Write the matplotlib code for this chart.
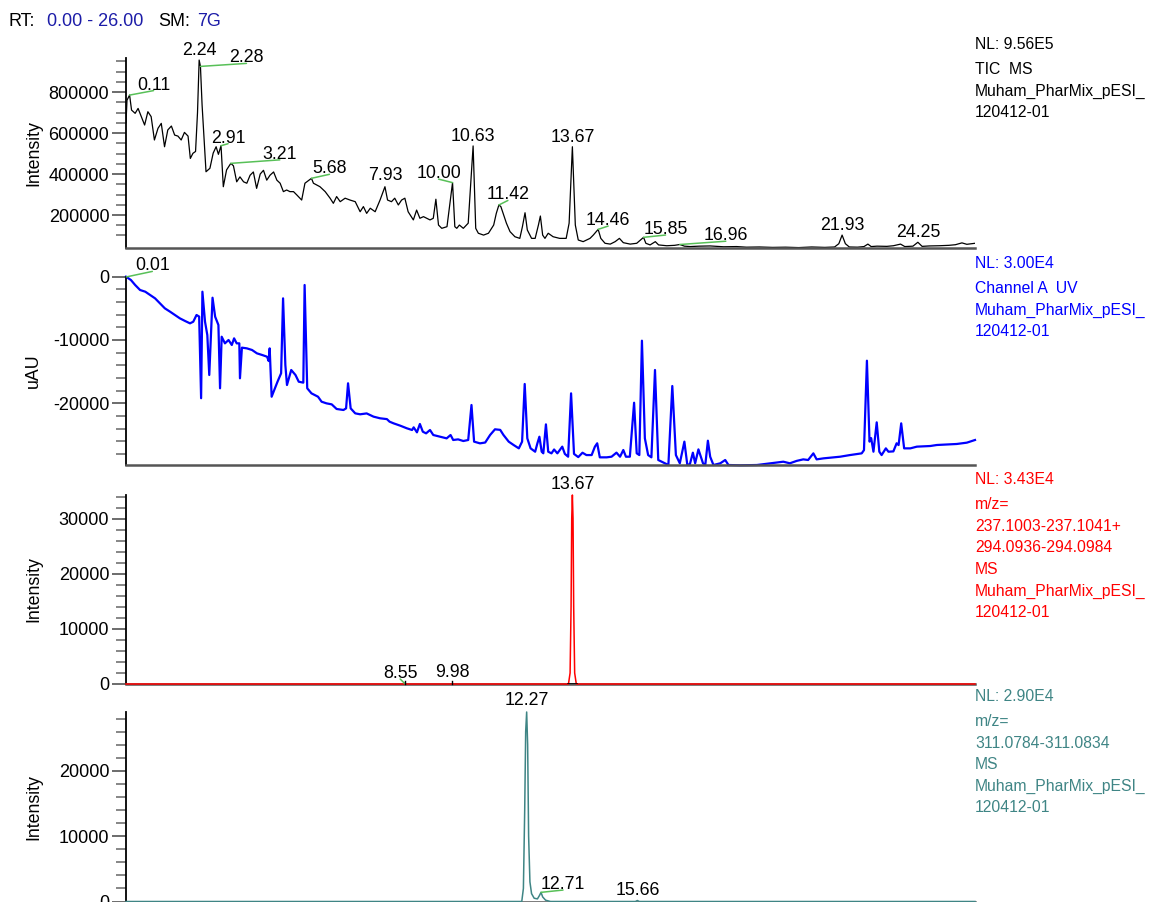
import numpy as np
import matplotlib
matplotlib.use('Agg')
import matplotlib.pyplot as plt
from matplotlib.ticker import FixedLocator

plt.rcParams['font.family'] = ['Liberation Sans', 'DejaVu Sans']

# ---- TIC (MS) trace ----
tic_rt = [0.00, 0.03, 0.11, 0.17, 0.28, 0.37, 0.47, 0.57, 0.67, 0.77, 0.87, 0.98, 1.08, 1.18,
          1.28, 1.39, 1.49, 1.59, 1.69, 1.79, 1.90, 1.97, 2.05, 2.13, 2.19, 2.24, 2.28, 2.33,
          2.45, 2.57, 2.67, 2.76, 2.83, 2.91, 2.98, 3.08, 3.21, 3.29, 3.39, 3.49, 3.60, 3.70,
          3.80, 3.90, 4.00, 4.11, 4.21, 4.31, 4.41, 4.52, 4.62, 4.72, 4.82, 4.92, 5.02, 5.13,
          5.23, 5.38, 5.48, 5.68, 5.74, 5.94, 6.10, 6.25, 6.35, 6.45, 6.56, 6.71, 6.86, 7.02,
          7.17, 7.27, 7.37, 7.48, 7.63, 7.78, 7.93, 8.01, 8.13, 8.23, 8.34, 8.44, 8.54, 8.64,
          8.80, 8.90, 9.00, 9.11, 9.21, 9.31, 9.41, 9.49, 9.57, 9.67, 9.83, 10.00, 10.07, 10.13,
          10.21, 10.33, 10.48, 10.63, 10.71, 10.79, 10.95, 11.10, 11.26, 11.34, 11.42, 11.48,
          11.55, 11.65, 11.76, 11.91, 12.06, 12.14, 12.22, 12.29, 12.42, 12.53, 12.63, 12.69,
          12.76, 12.83, 12.93, 13.08, 13.28, 13.48, 13.57, 13.67, 13.76, 13.85, 14.00, 14.21,
          14.31, 14.46, 14.54, 14.67, 14.83, 14.98, 15.11, 15.23, 15.44, 15.64, 15.85, 15.92,
          16.05, 16.21, 16.31, 16.56, 16.80, 16.96, 17.10, 17.28, 17.55, 17.89, 18.30, 18.70,
          19.00, 19.40, 19.80, 20.20, 20.60, 21.00, 21.40, 21.70, 21.83, 21.93, 22.03, 22.15,
          22.40, 22.60, 22.72, 22.82, 23.00, 23.30, 23.50, 23.72, 23.85, 24.10, 24.25, 24.38,
          24.60, 24.90, 25.20, 25.40, 25.60, 25.75, 26.00]
tic_int = [650000, 760000, 785000, 712000, 696000, 720000, 680000, 639000, 704000, 680000,
           566000, 623000, 647000, 533000, 615000, 634000, 590000, 585000, 566000, 603000,
           585000, 476000, 501000, 510000, 700000, 956000, 925000, 737000, 411000, 428000,
           502000, 533000, 496000, 538000, 338000, 420000, 452000, 440000, 362000, 386000,
           362000, 355000, 394000, 410000, 330000, 400000, 418000, 370000, 394000, 410000,
           370000, 355000, 314000, 322000, 314000, 314000, 298000, 273000, 355000, 379000,
           355000, 338000, 314000, 282000, 257000, 290000, 265000, 282000, 273000, 265000,
           216000, 241000, 208000, 233000, 216000, 273000, 338000, 273000, 265000, 282000,
           249000, 273000, 282000, 216000, 176000, 224000, 184000, 192000, 184000, 176000,
           184000, 277000, 151000, 135000, 143000, 358000, 143000, 135000, 151000, 135000,
           160000, 537000, 135000, 111000, 102000, 111000, 151000, 208000, 249000, 241000,
           208000, 160000, 119000, 94000, 86000, 143000, 211000, 127000, 86000, 86000,
           151000, 195000, 102000, 86000, 111000, 94000, 86000, 86000, 160000, 533000,
           151000, 78000, 70000, 86000, 102000, 130000, 86000, 62000, 58000, 70000,
           86000, 65000, 58000, 62000, 91000, 62000, 54000, 70000, 54000, 50000,
           52000, 56000, 48000, 46000, 48000, 49000, 45000, 46000, 43000, 44000,
           42000, 43000, 41000, 44000, 42000, 44000, 60000, 102000, 60000, 44000,
           43000, 46000, 58000, 46000, 48000, 47000, 50000, 58000, 46000, 48000,
           67000, 47000, 49000, 50000, 52000, 55000, 64000, 57000, 62000]

# ---- UV channel A ----
uv_rt = [0.00, 0.15, 0.28, 0.43, 0.59, 0.74, 0.89, 1.04, 1.19, 1.35, 1.50, 1.65, 1.81, 1.96,
         2.06, 2.16, 2.24, 2.30, 2.34, 2.42, 2.49, 2.55, 2.65, 2.73, 2.83, 2.88, 2.93, 3.03,
         3.14, 3.24, 3.31, 3.39, 3.47, 3.49, 3.55, 3.70, 3.86, 4.01, 4.17, 4.32, 4.37, 4.40,
         4.46, 4.56, 4.64, 4.75, 4.81, 4.88, 4.93, 5.06, 5.19, 5.29, 5.43, 5.47, 5.55, 5.68,
         5.88, 5.99, 6.14, 6.30, 6.45, 6.66, 6.74, 6.80, 6.88, 7.02, 7.17, 7.37, 7.58, 7.78,
         7.99, 8.07, 8.19, 8.40, 8.60, 8.76, 8.81, 8.91, 9.00, 9.09, 9.19, 9.31, 9.41, 9.62,
         9.82, 9.94, 10.02, 10.17, 10.33, 10.48, 10.58, 10.66, 10.84, 11.00, 11.15, 11.30,
         11.46, 11.56, 11.72, 11.87, 12.03, 12.13, 12.21, 12.29, 12.39, 12.53, 12.60, 12.66,
         12.73, 12.78, 12.86, 12.93, 13.03, 13.11, 13.21, 13.36, 13.44, 13.54, 13.63, 13.72,
         13.85, 13.98, 14.10, 14.26, 14.36, 14.43, 14.51, 14.72, 14.87, 15.02, 15.13, 15.23,
         15.31, 15.43, 15.56, 15.64, 15.72, 15.80, 15.89, 15.99, 16.09, 16.20, 16.30, 16.46,
         16.61, 16.73, 16.84, 16.96, 17.10, 17.19, 17.27, 17.36, 17.43, 17.53, 17.67, 17.74,
         17.82, 17.89, 17.99, 18.20, 18.35, 18.45, 18.81, 19.32, 19.72, 20.13, 20.33, 20.54,
         20.74, 20.89, 21.05, 21.15, 21.36, 21.56, 21.87, 22.17, 22.53, 22.60, 22.69, 22.77,
         22.82, 22.89, 22.99, 23.07, 23.14, 23.27, 23.35, 23.50, 23.60, 23.66, 23.74, 23.83,
         24.02, 24.22, 24.43, 24.63, 24.83, 25.14, 25.44, 25.75, 26.00]
uv_au = [0, -520, -1310, -2100, -2370, -2900, -3420, -4200, -5000, -5530, -6050, -6580, -7000,
         -7370, -7110, -6050, -6300, -19200, -2370, -7110, -9210, -15530, -3320, -6320, -7630,
         -17630, -9480, -10530, -10000, -10790, -9740, -10530, -10530, -16050, -11210, -11320,
         -11580, -12110, -12370, -12640, -13330, -11320, -18960, -17630, -16590, -15260, -3420,
         -13950, -17110, -14740, -15530, -16590, -16740, -1310, -17630, -18430, -18960, -19750,
         -20010, -20170, -20900, -21060, -20800, -16840, -20800, -21590, -21740, -21600, -22110,
         -22370, -22500, -22900, -23160, -23540, -23950, -24220, -23800, -24590, -23270, -24490,
         -24750, -24220, -25010, -25280, -25540, -25010, -25800, -25700, -25960, -25800, -20270,
         -26060, -26330, -26200, -25010, -24110, -24200, -25010, -26060, -26590, -27120, -26060,
         -16950, -25540, -27120, -27650, -26300, -25280, -27650, -27900, -23330, -27650, -27910,
         -27300, -27910, -26850, -28000, -28440, -18430, -28000, -28500, -27810, -28180, -28180,
         -26850, -26320, -28540, -28540, -28440, -27800, -28440, -27380, -28440, -28440, -19910,
         -27900, -28180, -10110, -25540, -28180, -28540, -14740, -28960, -29370, -29750, -17270,
         -28180, -29480, -26060, -29750, -29600, -27800, -29480, -27280, -29480, -29750, -25910,
         -28440, -29750, -29480, -28960, -29750, -29800, -29750, -29490, -29230, -29480, -29100,
         -28860, -28960, -27910, -28860, -28700, -28600, -28440, -28180, -27910, -27400, -13270,
         -26060, -25500, -27650, -23010, -27650, -28180, -27120, -27650, -27600, -26320, -26600,
         -23170, -27120, -27120, -26850, -26800, -26750, -26590, -26500, -26430, -26220, -25800]

# ---- extracted ion chromatograms ----
xic1_rt = [0.00, 13.55, 13.60, 13.63, 13.65, 13.67, 13.69, 13.71, 13.74, 13.79, 26.00]
xic1_int = [0, 0, 2000, 14000, 30000, 34300, 30000, 14000, 2000, 0, 0]

xic2_rt = [0.00, 12.12, 12.17, 12.21, 12.24, 12.27, 12.30, 12.33, 12.37, 12.42, 12.50, 12.60,
           12.66, 12.71, 12.76, 12.85, 13.00, 15.60, 15.66, 15.72, 26.00]
xic2_int = [0, 0, 2000, 14000, 26000, 29000, 24000, 10000, 3000, 1200, 500, 400,
            900, 1400, 700, 200, 0, 0, 150, 0, 0]

# peak labels (retention times)
tic_peaks = ['0.11', '2.24', '2.28', '2.91', '3.21', '5.68', '7.93', '10.00', '10.63', '11.42',
             '13.67', '14.46', '15.85', '16.96', '21.93', '24.25']
uv_peaks = ['0.01']
xic1_peaks = ['8.55', '9.98', '13.67']
xic2_peaks = ['12.27', '12.71', '15.66']

# label offsets in pixels (dx, dy above apex), leader flag
tic_offs = [(24, 5.5, 1), (0, 5, 0), (46, 4, 1), (7, 3, 1), (49, 4.5, 1), (18, 5, 1), (0, 7, 0),
            (-14, 4.5, 1), (0, 4.5, 0), (9, 5.5, 1), (0, 5, 0), (10, 4.3, 1), (22, 3.3, 1),
            (46, 4.3, 1), (0, 5.5, 0), (0, 5, 0)]
uv_offs = [(26, 6.5, 1)]
xic1_offs = [(-5, 6, 1), (0, 7, 0), (0, 6, 0)]
xic2_offs = [(0, 7, 0), (22, 3.3, 1), (0, 6, 0)]

W, H = 1150, 902
fig = plt.figure(figsize=(W / 100, H / 100), dpi=100)

green = '#58c058'
teal = '#3f8585'
navy = '#1c1ca8'


def add_axes(top, bottom):
    return fig.add_axes([126 / W, 1 - bottom / H, 849 / W, (bottom - top) / H])


def style(ax, ylim, major, minor, ylabel):
    ax.set_xlim(0, 26)
    ax.set_ylim(*ylim)
    for s in ['top', 'right']:
        ax.spines[s].set_visible(False)
    ax.spines['left'].set_linewidth(1.3)
    ax.spines['bottom'].set_linewidth(1.8)
    ax.spines['bottom'].set_color('#555555')
    ax.set_xticks([])
    ax.yaxis.set_major_locator(FixedLocator(major))
    ax.yaxis.set_minor_locator(FixedLocator(minor))
    ax.tick_params(axis='y', which='major', length=10, width=1.1, color='#444444',
                   labelsize=13, pad=2)
    ax.tick_params(axis='y', which='minor', length=7, width=1.1, color='#666666')
    ax.yaxis.set_major_formatter(plt.FuncFormatter(lambda v, p: '%d' % v))
    ax.set_ylabel(ylabel, fontsize=12.8)
    ax.yaxis.set_label_coords(-84 / 849, 0.5)


def label_peaks(ax, rts, ys, names, offs):
    for name, (dx, dy, lead) in zip(names, offs):
        rt = float(name)
        y = np.interp(rt, rts, ys)
        ax.annotate(name, xy=(rt, y), xytext=(dx, dy), textcoords='offset pixels',
                    ha='center', va='baseline', fontsize=12.8, annotation_clip=False)
        if lead:
            ax.annotate('', xy=(rt, y), xytext=(dx, dy - 1), textcoords='offset pixels',
                        arrowprops=dict(arrowstyle='-', color=green, lw=1.1,
                                        shrinkA=0, shrinkB=0), annotation_clip=False)


# panel 1: TIC
ax1 = add_axes(58, 248)
ax1.plot(tic_rt, tic_int, color='black', lw=0.9)
style(ax1, (39000, 966000), [200000, 400000, 600000, 800000],
      list(range(100000, 960000, 50000)), 'Intensity')
label_peaks(ax1, tic_rt, tic_int, tic_peaks, tic_offs)

# panel 2: UV
ax2 = add_axes(276.7, 465)
ax2.plot(uv_rt, uv_au, color='#0000ff', lw=1.6, clip_on=False)
style(ax2, (-29750, 0), [0, -10000, -20000], list(range(-28000, 1, 2000)), 'uAU')
label_peaks(ax2, uv_rt, uv_au, uv_peaks, uv_offs)

# panel 3: XIC 237/294
ax3 = add_axes(495, 684)
ax3.plot(xic1_rt, xic1_int, color='#ff0000', lw=1.1, clip_on=False, zorder=3)
style(ax3, (0, 34300), [0, 10000, 20000, 30000], list(range(0, 34001, 2000)), 'Intensity')
label_peaks(ax3, xic1_rt, xic1_int, xic1_peaks, xic1_offs)
for rt in [8.55, 9.98]:
    ax3.plot([rt, rt], [0, 500], color='black', lw=1, clip_on=False, zorder=4)
ax3.plot([13.55, 13.82], [0, 0], color='black', lw=1.2, zorder=4)

# panel 4: XIC 311
ax4 = add_axes(712, 901.5)
ax4.plot(xic2_rt, xic2_int, color=teal, lw=1.1, clip_on=False, zorder=3)
style(ax4, (0, 29000), [0, 10000, 20000], list(range(0, 28001, 2000)), 'Intensity')
label_peaks(ax4, xic2_rt, xic2_int, xic2_peaks, xic2_offs)


# header
def ftext(x, y, s, color='black', size=13):
    fig.text(x / W, 1 - y / H, s, color=color, fontsize=size, va='baseline', ha='left')


ftext(8, 26.5, 'RT:')
ftext(47, 26.5, '0.00 - 26.00', navy)
ftext(158, 26.5, 'SM:')
ftext(197, 26.5, '7G', navy)


# trace descriptions on the right
def info(y0, lines, color):
    y = y0
    for i, s in enumerate(lines):
        ftext(975, y, s, color, 11.3)
        y += 25 if i == 0 else 21.6


info(49, ['NL: 9.56E5', 'TIC  MS', 'Muham_PharMix_pESI_', '120412-01'], 'black')
info(268, ['NL: 3.00E4', 'Channel A  UV', 'Muham_PharMix_pESI_', '120412-01'], '#0000ff')
info(484, ['NL: 3.43E4', 'm/z=', '237.1003-237.1041+', '294.0936-294.0984', 'MS',
           'Muham_PharMix_pESI_', '120412-01'], '#ff0000')
info(701, ['NL: 2.90E4', 'm/z=', '311.0784-311.0834', 'MS', 'Muham_PharMix_pESI_',
           '120412-01'], teal)

fig.savefig('out.png', dpi=100)
